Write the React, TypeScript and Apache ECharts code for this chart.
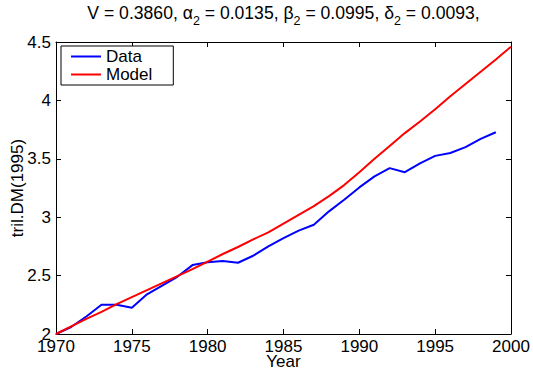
import React, { useEffect, useRef } from "react";
import * as echarts from "echarts";

// Observed series, one value per year
const dataYears = [
  1970, 1971, 1972, 1973, 1974, 1975, 1976, 1977, 1978, 1979,
  1980, 1981, 1982, 1983, 1984, 1985, 1986, 1987, 1988, 1989,
  1990, 1991, 1992, 1993, 1994, 1995, 1996, 1997, 1998, 1999,
];
const dataValues = [
  2.0, 2.06, 2.15, 2.25, 2.25, 2.225, 2.34, 2.415, 2.49, 2.59,
  2.615, 2.625, 2.61, 2.67, 2.75, 2.82, 2.885, 2.935, 3.05, 3.15,
  3.255, 3.35, 3.42, 3.385, 3.46, 3.525, 3.55, 3.6, 3.67, 3.727,
];

// Fitted model, one value per year
const modelYears = [
  1970, 1971, 1972, 1973, 1974, 1975, 1976, 1977, 1978, 1979,
  1980, 1981, 1982, 1983, 1984, 1985, 1986, 1987, 1988, 1989,
  1990, 1991, 1992, 1993, 1994, 1995, 1996, 1997, 1998, 1999, 2000,
];
const modelValues = [
  2.0, 2.065, 2.13, 2.19, 2.255, 2.315, 2.375, 2.435, 2.495, 2.555,
  2.62, 2.685, 2.745, 2.81, 2.87, 2.945, 3.02, 3.095, 3.18, 3.275,
  3.385, 3.5, 3.61, 3.72, 3.82, 3.925, 4.035, 4.14, 4.245, 4.35, 4.46,
];

const seriesNames = ["Data", "Model"];
const titleParts = [
  { sym: "V", value: "0.3860", sub: "" },
  { sym: "α", value: "0.0135", sub: "2" },
  { sym: "β", value: "0.0995", sub: "2" },
  { sym: "δ", value: "0.0093", sub: "2" },
];
const xLabel = "Year";
const yLabel = "tril.DM(1995)";

const FONT = "'Liberation Sans', Arial, Helvetica, sans-serif";

function buildTitle(): string {
  return titleParts
    .map((p) => {
      const head = `{n|${p.sym}}` + (p.sub ? `{s|${p.sub}}` : "");
      return `${head}{n| = ${p.value},}`;
    })
    .join("{n| }");
}

export default function App() {
  const ref = useRef<HTMLDivElement>(null);

  useEffect(() => {
    if (!ref.current) return;
    const chart = echarts.init(ref.current, undefined, { renderer: "svg" });

    const axisCommon = {
      axisLine: { show: true, onZero: false, lineStyle: { color: "#000", width: 1 } },
      axisTick: { show: true, inside: true, length: 5, lineStyle: { color: "#000" } },
      splitLine: { show: false },
    };

    chart.setOption({
      animation: false,
      backgroundColor: "#fff",
      textStyle: { fontFamily: FONT, color: "#000" },
      // Title with subscripted parameter names, centred over the plot box
      graphic: [
        {
          type: "text",
          x: 283.5,
          y: 4,
          style: {
            text: buildTitle(),
            align: "center",
            verticalAlign: "top",
            rich: {
              n: {
                fontSize: 17.6,
                fontFamily: FONT,
                fill: "#000",
                lineHeight: 23,
                verticalAlign: "top",
              },
              s: {
                fontSize: 12.5,
                fontFamily: FONT,
                fill: "#000",
                lineHeight: 23,
                verticalAlign: "bottom",
              },
            },
          },
        },
      ],
      grid: {
        left: 56,
        right: 22,
        top: 42,
        bottom: 35,
        containLabel: false,
        outerBoundsMode: "none",
      },
      legend: {
        data: seriesNames,
        orient: "vertical",
        left: 61,
        top: 46,
        padding: [2, 21, 2, 10],
        itemGap: 1,
        itemWidth: 30,
        itemHeight: 2,
        itemTextGap: 12,
        icon: "rect",
        borderColor: "#000",
        borderWidth: 1,
        backgroundColor: "#fff",
        textStyle: { fontSize: 17, lineHeight: 17, fontFamily: FONT, color: "#000" },
      },
      xAxis: [
        {
          type: "value",
          position: "bottom",
          min: 1970,
          max: 2000,
          interval: 5,
          name: xLabel,
          nameLocation: "middle",
          nameGap: 19.5,
          nameMoveOverlap: false,
          nameTextStyle: { fontSize: 17, lineHeight: 15, fontFamily: FONT, color: "#000" },
          axisLabel: {
            fontSize: 17,
            lineHeight: 13,
            margin: 6,
            color: "#000",
            fontFamily: FONT,
            formatter: (v: number) => String(v),
          },
          ...axisCommon,
        },
        {
          type: "value",
          position: "top",
          min: 1970,
          max: 2000,
          interval: 5,
          axisLabel: { show: false },
          ...axisCommon,
        },
      ],
      yAxis: [
        {
          type: "value",
          position: "left",
          min: 2,
          max: 4.5,
          interval: 0.5,
          name: yLabel,
          nameLocation: "middle",
          nameRotate: 90,
          nameGap: 30,
          nameMoveOverlap: false,
          nameTextStyle: { fontSize: 17, fontFamily: FONT, color: "#000" },
          axisLabel: {
            fontSize: 17,
            margin: 5,
            color: "#000",
            fontFamily: FONT,
            formatter: (v: number) => String(v),
          },
          ...axisCommon,
        },
        {
          type: "value",
          position: "right",
          min: 2,
          max: 4.5,
          interval: 0.5,
          axisLabel: { show: false },
          ...axisCommon,
        },
      ],
      series: [
        {
          name: seriesNames[0],
          type: "line",
          xAxisIndex: 0,
          yAxisIndex: 0,
          data: dataYears.map((y, i) => [y, dataValues[i]]),
          showSymbol: false,
          color: "#0000ff",
          lineStyle: { color: "#0000ff", width: 2 },
          z: 2,
        },
        {
          name: seriesNames[1],
          type: "line",
          xAxisIndex: 0,
          yAxisIndex: 0,
          data: modelYears.map((y, i) => [y, modelValues[i]]),
          showSymbol: false,
          color: "#ff0000",
          lineStyle: { color: "#ff0000", width: 2 },
          z: 3,
        },
      ],
    });

    return () => {
      chart.dispose();
    };
  }, []);

  return (
    <div
      ref={ref}
      style={{ position: "fixed", left: 0, top: 0, width: 533, height: 369 }}
    />
  );
}
